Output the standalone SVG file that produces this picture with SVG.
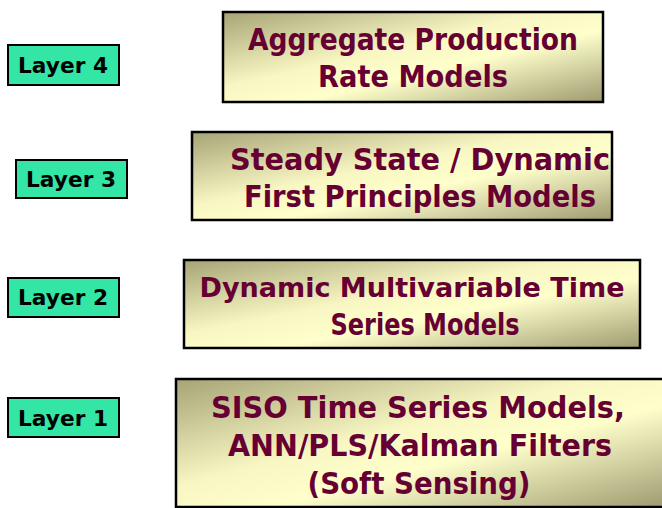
<svg xmlns="http://www.w3.org/2000/svg" width="662" height="508" viewBox="0 0 662 508">
<defs>
<linearGradient id="g" x1="0" y1="0" x2="1" y2="1">
<stop offset="0" stop-color="#a6a375"/>
<stop offset="0.42" stop-color="#f8f7c3"/>
<stop offset="0.6" stop-color="#ffffcc"/>
<stop offset="1" stop-color="#9e9b70"/>
</linearGradient>
<style>
.box{fill:url(#g);stroke:#000;stroke-width:2.5}
.lab{fill:#33e6a6;stroke:#000;stroke-width:2}
.t{font-family:"Comic Sans MS","DejaVu Sans",sans-serif;font-weight:bold;font-size:30px;fill:#660033;text-anchor:middle}
.s{font-size:27px}
.l{font-family:"Comic Sans MS","DejaVu Sans",sans-serif;font-weight:bold;font-size:21px;fill:#000;text-anchor:middle}
</style>
</defs>
<rect width="662" height="508" fill="#fff"/>
<g id="layer4">
<rect class="lab" x="8" y="45" width="111" height="40"/>
<text class="l" x="63" y="73" textLength="90" lengthAdjust="spacingAndGlyphs">Layer 4</text>
</g>
<g id="layer3">
<rect class="lab" x="16" y="160" width="111" height="38"/>
<text class="l" x="71" y="187" textLength="90" lengthAdjust="spacingAndGlyphs">Layer 3</text>
</g>
<g id="layer2">
<rect class="lab" x="8" y="278" width="111" height="39"/>
<text class="l" x="63" y="305" textLength="90" lengthAdjust="spacingAndGlyphs">Layer 2</text>
</g>
<g id="layer1">
<rect class="lab" x="8" y="398" width="111" height="39"/>
<text class="l" x="63" y="426" textLength="90" lengthAdjust="spacingAndGlyphs">Layer 1</text>
</g>
<g id="box4">
<rect class="box" x="223" y="12" width="380" height="90"/>
<text class="t" x="413" y="50" textLength="330" lengthAdjust="spacingAndGlyphs">Aggregate Production</text>
<text class="t" x="413" y="87" textLength="190" lengthAdjust="spacingAndGlyphs">Rate Models</text>
</g>
<g id="box3">
<rect class="box" x="192" y="132" width="420" height="88"/>
<text class="t" x="420" y="170" textLength="380" lengthAdjust="spacingAndGlyphs">Steady State / Dynamic</text>
<text class="t" x="420" y="207" textLength="352" lengthAdjust="spacingAndGlyphs">First Principles Models</text>
</g>
<g id="box2">
<rect class="box" x="184" y="260" width="456" height="88"/>
<text class="t s" x="412" y="297" textLength="425" lengthAdjust="spacingAndGlyphs">Dynamic Multivariable Time</text>
<text class="t" x="425" y="335" textLength="189" lengthAdjust="spacingAndGlyphs">Series Models</text>
</g>
<g id="box1">
<rect class="box" x="176" y="379" width="490" height="128"/>
<text class="t" x="418" y="418" textLength="414" lengthAdjust="spacingAndGlyphs">SISO Time Series Models,</text>
<text class="t" x="420" y="456" textLength="384" lengthAdjust="spacingAndGlyphs">ANN/PLS/Kalman Filters</text>
<text class="t" x="419" y="494" textLength="223" lengthAdjust="spacingAndGlyphs">(Soft Sensing)</text>
</g>
<g id="connectors"/>
</svg>
